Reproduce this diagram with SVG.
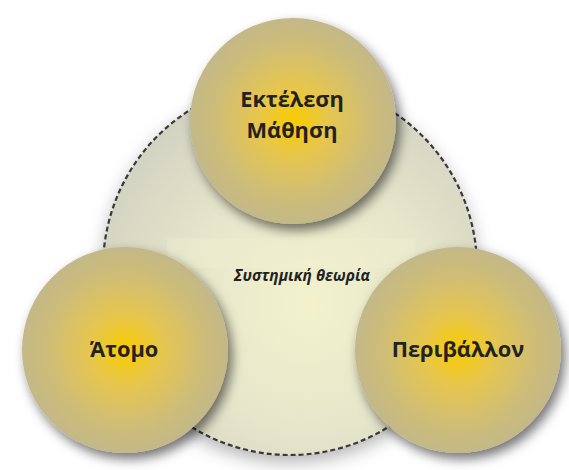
<svg xmlns="http://www.w3.org/2000/svg" width="569" height="470" viewBox="0 0 569 470">
  <defs>
    <radialGradient id="ballFill" cx="50%" cy="50%" r="50%">
      <stop offset="0" stop-color="#f9cc00"/>
      <stop offset="0.35" stop-color="#e6c64e"/>
      <stop offset="0.75" stop-color="#cebd78"/>
      <stop offset="1" stop-color="#c3b888"/>
    </radialGradient>
    <radialGradient id="systemFill" cx="0.55" cy="0.6" r="0.6">
      <stop offset="0" stop-color="#f3f2cd"/>
      <stop offset="0.55" stop-color="#e6e6cb"/>
      <stop offset="1" stop-color="#d3d3c2"/>
    </radialGradient>
    <filter id="ballShadow" x="-30%" y="-30%" width="160%" height="160%">
      <feDropShadow dx="4" dy="6" stdDeviation="6" flood-color="#000" flood-opacity="0.55"/>
    </filter>
    <filter id="systemShadow" x="-20%" y="-20%" width="140%" height="140%">
      <feDropShadow dx="0" dy="7" stdDeviation="9" flood-color="#000" flood-opacity="0.3"/>
    </filter>
  </defs>
  <style>
    .ball { fill: url(#ballFill); filter: url(#ballShadow); }
    .label { font-family: "Open Sans", "Noto Sans", "DejaVu Sans", sans-serif; font-weight: bold; font-size: 21.8px; fill: #222222; text-anchor: middle; }
    .system-label { font-family: "Open Sans", "Noto Sans", "DejaVu Sans", sans-serif; font-weight: bold; font-style: italic; font-size: 15.5px; fill: #222222; text-anchor: middle; }
  </style>

  <rect width="569" height="470" fill="#ffffff"/>

  <!-- enclosing system -->
  <g id="system">
    <circle cx="290" cy="268" r="187" fill="url(#systemFill)" filter="url(#systemShadow)"/>
    <circle cx="290" cy="268" r="187" fill="none" stroke="#3a3a3a" stroke-width="2.2" stroke-dasharray="5 3"/>
    <rect x="167" y="238" width="248" height="30" fill="#f2f1d3" opacity="0.3"/>
    <text class="system-label" x="302" y="281">Συστημική θεωρία</text>
  </g>

  <g id="connectors"/>

  <g id="node-performance">
    <circle class="ball" cx="293" cy="121" r="103"/>
    <text class="label" x="292" y="107">Εκτέλεση</text>
    <text class="label" x="292" y="138">Μάθηση</text>
  </g>

  <g id="node-individual">
    <circle class="ball" cx="125" cy="350" r="103"/>
    <text class="label" x="124" y="357">Άτομο</text>
  </g>

  <g id="node-environment">
    <circle class="ball" cx="458" cy="350" r="103"/>
    <text class="label" x="458" y="357">Περιβάλλον</text>
  </g>
</svg>
